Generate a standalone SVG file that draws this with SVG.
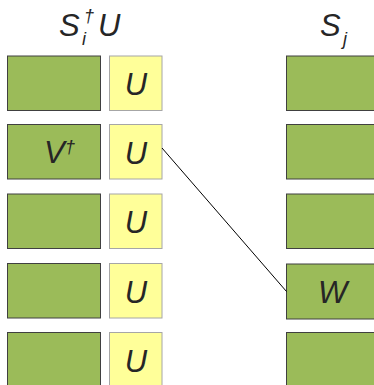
<svg xmlns="http://www.w3.org/2000/svg" width="374" height="385" viewBox="0 0 374 385">
<style>
.g{fill:#9bbb59;stroke:#404040;stroke-width:1}
.y{fill:#ffff99;stroke:#a6a6a6;stroke-width:1}
text{font-family:"Liberation Sans",Arial,sans-serif;font-style:italic;fill:#262626}
.l{font-size:31px}
.u{font-size:31px;text-anchor:middle}
.s{font-size:18px}
</style>
<rect width="374" height="385" fill="#ffffff"/>
<g id="title-left"><text class="l" x="59" y="35.5">S</text><text class="s" x="84" y="22">†</text><text class="s" x="82" y="45">i</text><text class="l" x="98" y="35.5">U</text></g>
<g id="title-right"><text class="l" x="320" y="35.5">S</text><text class="s" x="343" y="45">j</text></g>
<g id="left-1"><rect class="g" x="7.5" y="56" width="93" height="54.5"/></g>
<g id="left-2"><rect class="g" x="7.5" y="124.5" width="93" height="54.5"/><text class="l" x="44" y="163">V</text><text class="s" x="65" y="153">†</text></g>
<g id="left-3"><rect class="g" x="7.5" y="194" width="93" height="54.5"/></g>
<g id="left-4"><rect class="g" x="7.5" y="263.5" width="93" height="54.5"/></g>
<g id="left-5"><rect class="g" x="7.5" y="332.5" width="93" height="54.5"/></g>
<g id="u-1"><rect class="y" x="109.5" y="56" width="52.5" height="54.5"/><text class="u" x="136" y="95">U</text></g>
<g id="u-2"><rect class="y" x="109.5" y="124.5" width="52.5" height="54.5"/><text class="u" x="136" y="163.5">U</text></g>
<g id="u-3"><rect class="y" x="109.5" y="194" width="52.5" height="54.5"/><text class="u" x="136" y="233">U</text></g>
<g id="u-4"><rect class="y" x="109.5" y="263.5" width="52.5" height="54.5"/><text class="u" x="136" y="302.5">U</text></g>
<g id="u-5"><rect class="y" x="109.5" y="332.5" width="52.5" height="54.5"/><text class="u" x="136" y="371.5">U</text></g>
<g id="right-1"><rect class="g" x="286.5" y="56" width="93" height="54.5"/></g>
<g id="right-2"><rect class="g" x="286.5" y="124.5" width="93" height="54.5"/></g>
<g id="right-3"><rect class="g" x="286.5" y="194" width="93" height="54.5"/></g>
<g id="right-4"><rect class="g" x="286.5" y="264" width="93" height="55"/><text class="l" x="318" y="302.5">W</text></g>
<g id="right-5"><rect class="g" x="286.5" y="332.5" width="93" height="54.5"/></g>
<g id="connectors"><line x1="162" y1="148" x2="286.5" y2="291.5" stroke="#000" stroke-width="1"/></g>
</svg>
